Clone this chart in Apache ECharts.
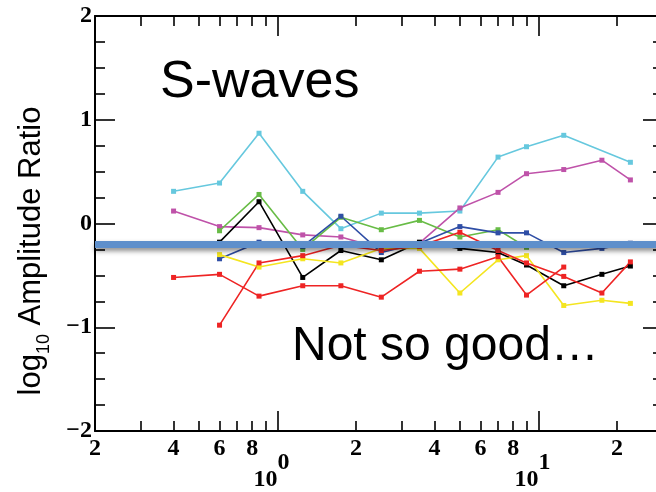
<!DOCTYPE html>
<html>
<head>
<meta charset="utf-8">
<script src="https://cdn.jsdelivr.net/npm/echarts@6/dist/echarts.min.js"></script>
<style>
  html, body { margin: 0; padding: 0; background: #fff; }
  #chart { width: 656px; height: 492px; }
</style>
</head>
<body>
<div id="chart"></div>
<script>
// Frequencies (Hz) shared by all stations
var freqs = [0.4, 0.6, 0.85, 1.25, 1.75, 2.5, 3.5, 5, 7, 9, 12.5, 17.5, 22.5];

// log10 amplitude ratios per station (null = no measurement)
var cyanVals    = [0.31, 0.39, 0.87, 0.31, -0.05, 0.10, 0.10, 0.12, 0.64, 0.74, 0.85, null, 0.59];
var magentaVals = [0.12, -0.03, -0.04, -0.11, -0.13, -0.24, -0.19, 0.15, 0.30, 0.48, 0.52, 0.61, 0.42];
var greenVals   = [null, -0.07, 0.28, -0.25, 0.06, -0.06, 0.03, -0.13, -0.06, -0.23, null, null, null];
var blueVals    = [null, -0.34, -0.18, -0.22, 0.07, -0.28, -0.19, -0.03, -0.09, -0.09, -0.28, -0.24, -0.19];
var blackVals   = [null, -0.18, 0.21, -0.52, -0.26, -0.35, -0.18, -0.24, -0.28, -0.40, -0.60, -0.49, -0.41];
var yellowVals  = [null, -0.30, -0.42, -0.34, -0.38, -0.24, -0.24, -0.67, -0.35, -0.31, -0.79, -0.74, -0.77];
var redAVals    = [-0.52, -0.49, -0.70, -0.60, -0.60, -0.71, -0.46, -0.44, -0.32, -0.69, -0.42, null, null];
var redBVals    = [null, -0.98, -0.38, -0.31, -0.21, -0.26, -0.22, -0.085, -0.26, -0.38, -0.51, -0.67, -0.37];

// Reference level drawn as the thick horizontal bar
var referenceLevel = -0.2;

// Frequency axis range and tick positions (Hz)
var freqMin = 0.2, freqMax = 30;
var minorTickFreqs = [0.3, 0.4, 0.5, 0.6, 0.7, 0.8, 0.9, 2, 3, 4, 5, 6, 7, 8, 9, 20, 30];
var majorTickFreqs = [1, 10];
var digitLabelFreqs = [0.2, 0.4, 0.6, 0.8, 2, 4, 6, 8, 20];

// Amplitude axis range
var ampMin = -2, ampMax = 2, ampStep = 1;

var lg = function (f) { return Math.log10(f); };

function pairs(vals) {
  var out = [];
  for (var i = 0; i < freqs.length; i++) {
    if (vals[i] !== null) out.push([lg(freqs[i]), vals[i]]);
  }
  return out;
}

var serifFont = '"Liberation Serif", "Times New Roman", serif';
var sansFont = '"Liberation Sans", Arial, Helvetica, sans-serif';

var tickLine = { color: '#000', width: 1.6 };
var axisLineStyle = { show: true, onZero: false, lineStyle: { color: '#000', width: 2 } };
var noLine = { show: false, onZero: false };
var tickFont = { color: '#000', fontFamily: serifFont, fontSize: 24, fontWeight: 'bold' };

function digitFormatter(v) {
  var e = Math.floor(v + 1e-9);
  return String(Math.round(Math.pow(10, v) / Math.pow(10, e)));
}

var chart = echarts.init(document.getElementById('chart'), null, { renderer: 'canvas' });

var stationSeries = [
  { name: 'cyan', vals: cyanVals, color: '#66c8de' },
  { name: 'magenta', vals: magentaVals, color: '#bf52a9' },
  { name: 'green', vals: greenVals, color: '#68bc46' },
  { name: 'blue', vals: blueVals, color: '#2f4ea6' },
  { name: 'black', vals: blackVals, color: '#000000' },
  { name: 'yellow', vals: yellowVals, color: '#f4e520' },
  { name: 'redA', vals: redAVals, color: '#ee2424' },
  { name: 'redB', vals: redBVals, color: '#ee2424' }
].map(function (s) {
  return {
    type: 'line',
    name: s.name,
    xAxisIndex: 0,
    yAxisIndex: 0,
    data: pairs(s.vals),
    symbol: 'rect',
    symbolSize: 5,
    showSymbol: true,
    lineStyle: { color: s.color, width: 1.6 },
    itemStyle: { color: s.color },
    emphasis: { disabled: true },
    animation: false,
    z: 3
  };
});

stationSeries.push({
  type: 'line',
  name: 'reference',
  xAxisIndex: 0,
  yAxisIndex: 0,
  data: [],
  animation: false,
  z: 6,
  markLine: {
    silent: true,
    symbol: ['none', 'none'],
    animation: false,
    label: { show: false },
    lineStyle: {
      color: '#5e8fcb',
      width: 7,
      type: 'solid',
      shadowColor: 'rgba(0,0,0,0.45)',
      shadowBlur: 5,
      shadowOffsetY: 3
    },
    data: [{ yAxis: referenceLevel }]
  }
});

function xAxisDef(extra) {
  return Object.assign({
    type: 'value',
    min: lg(freqMin),
    max: lg(freqMax),
    splitLine: { show: false },
    axisLine: noLine,
    axisTick: { show: false },
    axisLabel: { show: false },
    gridIndex: 0
  }, extra);
}

var option = {
  backgroundColor: '#ffffff',
  animation: false,
  grid: {
    left: 95, right: -7, top: 16, bottom: 61,
    containLabel: false,
    outerBoundsMode: 'none'
  },
  xAxis: [
    // bottom: axis line, minor ticks, mantissa digits
    xAxisDef({
      position: 'bottom',
      axisLine: axisLineStyle,
      axisTick: { show: true, inside: true, length: 10, lineStyle: tickLine,
                  customValues: minorTickFreqs.map(lg) },
      axisLabel: Object.assign({ show: true, margin: 6,
        customValues: digitLabelFreqs.map(lg), formatter: digitFormatter }, tickFont)
    }),
    // bottom: decade ticks and the "10" base
    xAxisDef({
      position: 'bottom',
      axisTick: { show: true, inside: true, length: 20, lineStyle: tickLine,
                  customValues: majorTickFreqs.map(lg) },
      axisLabel: Object.assign({ show: true, margin: 37, align: 'right',
        customValues: majorTickFreqs.map(lg), formatter: function () { return '10'; } }, tickFont)
    }),
    // bottom: decade exponent, raised
    xAxisDef({
      position: 'bottom',
      axisLabel: Object.assign({ show: true, margin: 20, align: 'left',
        customValues: majorTickFreqs.map(lg),
        formatter: function (v) { return String(Math.round(v)); } }, tickFont)
    }),
    // top: axis line and minor ticks
    xAxisDef({
      position: 'top',
      axisLine: axisLineStyle,
      axisTick: { show: true, inside: true, length: 10, lineStyle: tickLine,
                  customValues: minorTickFreqs.map(lg) }
    }),
    // top: decade ticks
    xAxisDef({
      position: 'top',
      axisTick: { show: true, inside: true, length: 20, lineStyle: tickLine,
                  customValues: majorTickFreqs.map(lg) }
    })
  ],
  yAxis: [
    {
      type: 'value', position: 'left', min: ampMin, max: ampMax, interval: ampStep,
      axisLine: axisLineStyle,
      splitLine: { show: false },
      axisTick: { show: true, inside: true, length: 20, lineStyle: tickLine },
      minorTick: { show: true, splitNumber: 4, length: 10, lineStyle: tickLine },
      axisLabel: Object.assign({
        show: true, margin: 3,
        formatter: function (v) { return String(v).replace('-', '\u2212'); }
      }, tickFont)
    },
    {
      type: 'value', position: 'right', min: ampMin, max: ampMax, interval: ampStep,
      axisLine: axisLineStyle,
      splitLine: { show: false },
      axisTick: { show: true, inside: true, length: 20, lineStyle: tickLine },
      minorTick: { show: true, splitNumber: 4, length: 10, lineStyle: tickLine },
      axisLabel: { show: false }
    }
  ],
  graphic: [
    {
      type: 'text', x: 160, y: 83, z: 10, silent: true,
      style: { text: 'S-waves', font: '52px ' + sansFont, fill: '#000',
               align: 'left', verticalAlign: 'middle' }
    },
    {
      type: 'text', x: 292, y: 347, z: 10, silent: true,
      style: { text: 'Not so good\u2026', font: '48px ' + sansFont, fill: '#000',
               align: 'left', verticalAlign: 'middle' }
    },
    {
      type: 'text', x: 31, y: 251, rotation: Math.PI / 2, z: 10, silent: true,
      style: {
        text: '{m|log}{s|10}{m| Amplitude Ratio}',
        align: 'center', verticalAlign: 'middle',
        rich: {
          m: { fontFamily: sansFont, fontSize: 31, lineHeight: 30, verticalAlign: 'top', fill: '#000' },
          s: { fontFamily: sansFont, fontSize: 18, lineHeight: 18, verticalAlign: 'top',
               padding: [19, 0, 0, 0], fill: '#000' }
        }
      }
    }
  ],
  series: stationSeries
};

chart.setOption(option);
</script>
</body>
</html>
